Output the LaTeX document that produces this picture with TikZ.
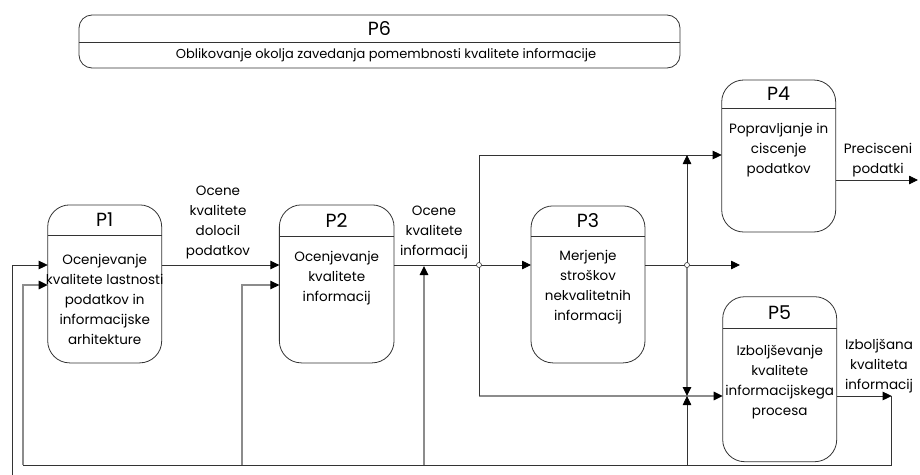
\documentclass[tikz,border=0pt]{standalone}
\usepackage{fontspec}
\setmainfont{Poppins}
\usetikzlibrary{arrows.meta,calc}
\definecolor{dk}{HTML}{333333}
\definecolor{lt}{HTML}{8C8C8C}
\begin{document}
\begin{tikzpicture}[x=1pt,y=-1pt,
  proc/.style={draw=dk, line width=0.8pt, rounded corners=22pt, inner sep=0pt, outer sep=0pt},
  banner/.style={draw=dk, line width=0.8pt, rounded corners=13pt, inner sep=0pt, outer sep=0pt},
  ttl/.style={font=\fontsize{19}{22}\selectfont, inner sep=0pt, text=black},
  body/.style={font=\fontsize{13.5}{20}\selectfont, align=center, inner sep=0pt, text=black},
  dkl/.style={draw=dk, line width=0.8pt},
  ltl/.style={draw=lt, line width=1.1pt},
  arr/.style={-{Triangle[length=9pt,width=8.5pt,color=black]}},
  junc/.style={circle, draw=dk, fill=white, line width=0.6pt, inner sep=0pt, minimum size=5pt}
]
\useasboundingbox (0,0) rectangle (920,474);

% banner P6
\node[banner, minimum width=601pt, minimum height=53pt] (p6) at (379.5,41.5) {};
\draw[dkl] (p6.west |- 0,42) -- (p6.east |- 0,42);
\node[ttl] (p6t) at (379.5,29) {P6};
\node[body, font=\fontsize{13}{20}\selectfont] (p6b) at (386,55) {Oblikovanje okolja zavedanja pomembnosti kvalitete informacije};

% process boxes
\node[proc, minimum width=114pt, minimum height=158pt] (p1) at (104.7,283.9) {};
\node[proc, minimum width=114.7pt, minimum height=158pt] (p2) at (336.7,283.9) {};
\node[proc, minimum width=114pt, minimum height=157pt] (p3) at (588,284.4) {};
\node[proc, minimum width=114pt, minimum height=152pt] (p4) at (778.7,156) {};
\node[proc, minimum width=114pt, minimum height=165pt] (p5) at (779.7,379.2) {};

\draw[dkl] (p1.west |- 0,235) -- (p1.east |- 0,235);
\draw[dkl] (p2.west |- 0,236) -- (p2.east |- 0,236);
\draw[dkl] (p3.west |- 0,236.7) -- (p3.east |- 0,236.7);
\draw[dkl] (p4.west |- 0,108) -- (p4.east |- 0,108);
\draw[dkl] (p5.west |- 0,328) -- (p5.east |- 0,328);

\node[ttl] (p1t) at (104.7,220) {P1};
\node[ttl] (p2t) at (336.7,220.5) {P2};
\node[ttl] (p3t) at (588,221) {P3};
\node[ttl] (p4t) at (778.7,94) {P4};
\node[ttl] (p5t) at (779.7,312.5) {P5};

\node[body] (p1b) at (104.7,299) {Ocenjevanje\\kvalitete lastnosti\\podatkov in\\informacijske\\arhitekture};
\node[body] (p2b) at (336.7,277.7) {Ocenjevanje\\kvalitete\\informacij};
\node[body] (p3b) at (588,286.7) {Merjenje\\stroškov\\nekvalitetnih\\informacij};
\node[body] (p4b) at (778.7,150) {Popravljanje in\\ciscenje\\podatkov};
\node[body] (p5b) at (779.7,382.4) {Izboljševanje\\kvalitete\\informacijskega\\procesa};

% labels
\node[body] (l1) at (218,222.5) {Ocene\\kvalitete\\dolocil\\podatkov};
\node[body] (l2) at (434,232) {Ocene\\kvalitete\\informacij};
\node[body] (l3) at (878,160) {Precisceni\\podatki};
\node[body] (l4) at (879,366) {Izboljšana\\kvaliteta\\informacij};

% coordinates
\coordinate (j1) at (479,265);
\coordinate (j2) at (687,265);
\coordinate (t1) at (479,155);
\coordinate (b1) at (479,396);
\coordinate (t2) at (687,155);
\coordinate (b2) at (687,396);
\coordinate (e1) at (740,265);
\coordinate (e2) at (918,180);
\coordinate (s0) at (12,476);
\coordinate (c1) at (891.7,396);
\coordinate (c2) at (891.7,465);
\coordinate (c3) at (23,465);
\coordinate (f2) at (242,465);
\coordinate (f3) at (424,465);
\coordinate (f3t) at (424,266);
\coordinate (f4) at (687,465);

% light feedback lines
\draw[ltl,arr] (c3) |- (p1.west |- 0,285);
\draw[ltl,arr] (f2) |- (p2.west |- 0,285);
\draw[ltl,arr] (f3) -- (f3t);
\draw[ltl,arr] (b1) -- (p5.west |- b1);
\draw[ltl,arr] (j2) -- (b2);

% dark lines
\draw[dkl,arr] (s0) |- (p1.west |- 0,265);
\draw[dkl,arr] (p1.east |- 0,265) -- (p2.west |- 0,265);
\draw[dkl] (p2.east |- j1) -- (j1);
\draw[dkl,arr] (j1) -- (p3.west |- j1);
\draw[dkl] (t1) -- (b1);
\draw[dkl,arr] (t1) -- (p4.west |- t1);
\draw[dkl] (p3.east |- j2) -- (j2);
\draw[dkl,arr] (j2) -- (e1);
\draw[dkl,arr] (j2) -- (t2);
\draw[dkl,arr] (f4) -- (b2);
\draw[dkl,arr] (p4.east |- e2) -- (e2);
\draw[dkl,arr] (p5.east |- c1) -- (c1);
\draw[dkl] (c1) -- (c2) -- (c3);

% junctions
\node[junc] (j1c) at (j1) {};
\node[junc] (j2c) at (j2) {};
\end{tikzpicture}
\end{document}
